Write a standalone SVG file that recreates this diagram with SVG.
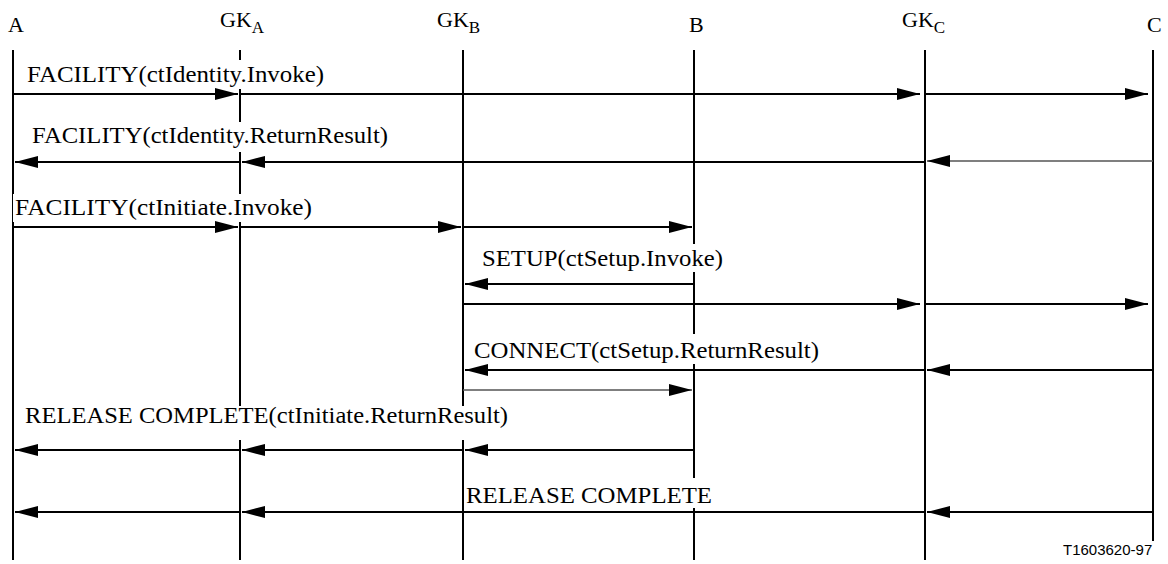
<svg xmlns="http://www.w3.org/2000/svg" width="1168" height="564" viewBox="0 0 1168 564">
<style>
.hdr{font-size:22px;fill:#000}
.sub{font-size:17px}
.lbl{font-size:23.5px;fill:#000}
.life{stroke:#000;stroke-width:2;fill:none}
.msg{stroke:#000;stroke-width:2.2;fill:none;marker-end:url(#ah)}
.thin{stroke:#555;stroke-width:1.6}
.bg{fill:#fff}
.note{font-size:15px;fill:#000}
</style>
<defs>
<marker id="ah" markerUnits="userSpaceOnUse" markerWidth="24" markerHeight="13" refX="23" refY="6" orient="auto">
<path d="M0,0 L23,6 L0,12 z" fill="#000"/>
</marker>
</defs>
<g id="lifelines" font-family="'Liberation Serif', 'Times New Roman', serif">
<g id="node-A"><text class="hdr" x="8" y="32">A</text><line class="life" x1="13" y1="50" x2="13" y2="560"/></g>
<g id="node-GKA"><text class="hdr" x="220" y="27">GK<tspan class="sub" dy="6">A</tspan></text><line class="life" x1="240" y1="50" x2="240" y2="560"/></g>
<g id="node-GKB"><text class="hdr" x="437" y="27">GK<tspan class="sub" dy="6">B</tspan></text><line class="life" x1="463" y1="50" x2="463" y2="560"/></g>
<g id="node-B"><text class="hdr" x="689" y="32">B</text><line class="life" x1="694" y1="50" x2="694" y2="560"/></g>
<g id="node-GKC"><text class="hdr" x="902" y="27">GK<tspan class="sub" dy="6">C</tspan></text><line class="life" x1="925" y1="50" x2="925" y2="560"/></g>
<g id="node-C"><text class="hdr" x="1147" y="32">C</text><line class="life" x1="1153" y1="50" x2="1153" y2="541"/></g>
</g>
<g id="label-backgrounds">
<rect class="bg" x="25" y="60" width="301" height="29"/>
<rect class="bg" x="30" y="122" width="360" height="30"/>
<rect class="bg" x="13" y="194" width="301" height="28"/>
<rect class="bg" x="480" y="244" width="245" height="28"/>
<rect class="bg" x="472" y="334" width="349" height="30"/>
<rect class="bg" x="23" y="406" width="487" height="34"/>
<rect class="bg" x="466" y="478" width="248" height="30"/>
</g>
<g id="connectors">
<line class="msg" x1="13" y1="94" x2="238" y2="94"/>
<line class="msg" x1="240" y1="94" x2="920" y2="94"/>
<line class="msg" x1="925" y1="94" x2="1148" y2="94"/>
<line class="msg thin" x1="1153" y1="161" x2="927" y2="161"/>
<line class="msg" x1="925" y1="162" x2="242" y2="162"/>
<line class="msg" x1="240" y1="162" x2="15" y2="162"/>
<line class="msg" x1="13" y1="227" x2="238" y2="227"/>
<line class="msg" x1="240" y1="227" x2="461" y2="227"/>
<line class="msg" x1="463" y1="227" x2="692" y2="227"/>
<line class="msg" x1="694" y1="284" x2="465" y2="284"/>
<line class="msg" x1="463" y1="304" x2="920" y2="304"/>
<line class="msg" x1="925" y1="304" x2="1148" y2="304"/>
<line class="msg" x1="1153" y1="370" x2="927" y2="370"/>
<line class="msg" x1="925" y1="370" x2="465" y2="370"/>
<line class="msg thin" x1="463" y1="390" x2="692" y2="390"/>
<line class="msg" x1="694" y1="450" x2="465" y2="450"/>
<line class="msg" x1="463" y1="450" x2="242" y2="450"/>
<line class="msg" x1="240" y1="450" x2="15" y2="450"/>
<line class="msg" x1="1153" y1="512" x2="927" y2="512"/>
<line class="msg" x1="925" y1="512" x2="242" y2="512"/>
<line class="msg" x1="240" y1="512" x2="15" y2="512"/>
</g>
<g id="labels" font-family="'Liberation Serif', 'Times New Roman', serif">
<text class="lbl" x="27" y="82" textLength="297" lengthAdjust="spacingAndGlyphs">FACILITY(ctIdentity.Invoke)</text>
<text class="lbl" x="32" y="143" textLength="356" lengthAdjust="spacingAndGlyphs">FACILITY(ctIdentity.ReturnResult)</text>
<text class="lbl" x="15" y="215" textLength="297" lengthAdjust="spacingAndGlyphs">FACILITY(ctInitiate.Invoke)</text>
<text class="lbl" x="482" y="266" textLength="241" lengthAdjust="spacingAndGlyphs">SETUP(ctSetup.Invoke)</text>
<text class="lbl" x="474" y="358" textLength="345" lengthAdjust="spacingAndGlyphs">CONNECT(ctSetup.ReturnResult)</text>
<text class="lbl" x="25" y="423" textLength="483" lengthAdjust="spacingAndGlyphs">RELEASE COMPLETE(ctInitiate.ReturnResult)</text>
<text class="lbl" x="466" y="503" textLength="246" lengthAdjust="spacingAndGlyphs">RELEASE COMPLETE</text>
<text class="note" font-family="'Liberation Sans', Arial, sans-serif" x="1063" y="555">T1603620-97</text>
</g>
</svg>
